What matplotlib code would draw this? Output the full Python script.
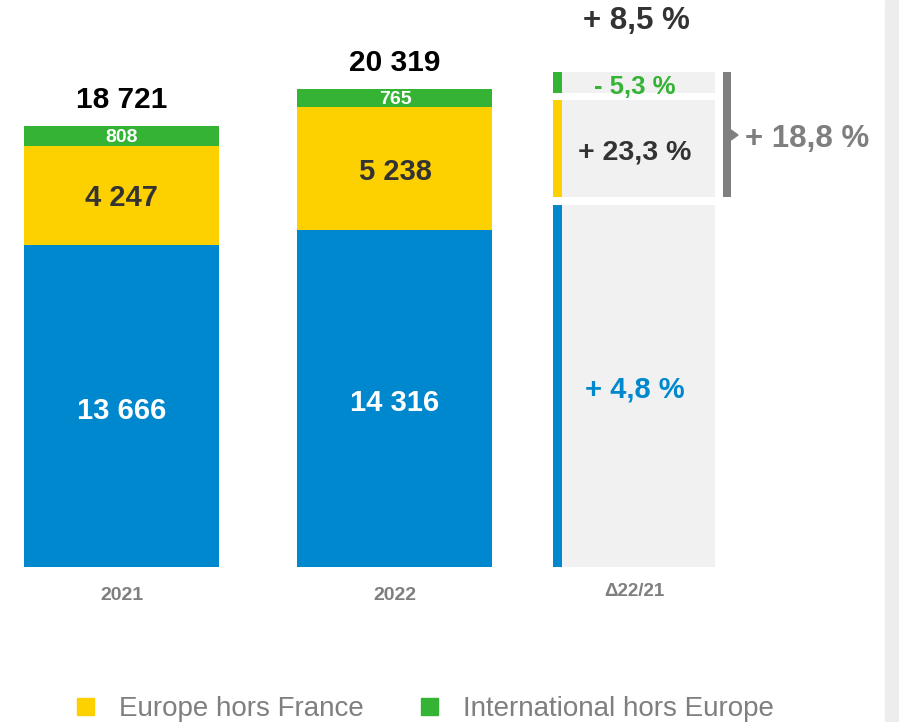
import matplotlib
matplotlib.use('Agg')
import matplotlib.pyplot as plt
from matplotlib.patches import Rectangle, Polygon

plt.rcParams['font.family'] = ['Liberation Sans', 'DejaVu Sans']

# Data
years = ['2021', '2022']
france = [13666, 14316]
europe = [4247, 5238]
international = [808, 765]
delta_label = '\u039422/21'
legend_labels = ['Europe hors France', 'International hors Europe']

BLUE = '#0088CE'
YELLOW = '#FDD000'
GREEN = '#34B334'
DARK = '#333333'
GREY = '#7F7F7F'
PANEL = '#F1F1F1'

W, H = 899, 722
DPI = 100


def fmt(v):
    return f'{v:,}'.replace(',', ' ')


def pct(a, b):
    p = (b / a - 1) * 100
    sign = '+' if p >= 0 else '-'
    return f'{sign} {abs(p):.1f} %'.replace('.', ',')


fig = plt.figure(figsize=(W / DPI, H / DPI), dpi=DPI)

# axes: y=0 at pixel row 567, 0.02353 px per unit, spans to the top
base_px = 567
ppu = 0.02353
ax = fig.add_axes([0, (H - base_px) / H, 1, base_px / H])
ax.set_ylim(0, base_px / ppu)
x0_px, step_px = 121.5, 273.5
ax.set_xlim(-x0_px / step_px, (W - x0_px) / step_px)
ax.axis('off')


def px2y(py):
    return (base_px - py) / ppu


def px2x(px):
    return (px - x0_px) / step_px


nudge = 3 / ppu  # text sits a bit lower than bbox centre
xs = [0, 1]
bw = 195 / step_px
b2 = [f + e for f, e in zip(france, europe)]
ax.bar(xs, france, width=bw, color=BLUE)
ax.bar(xs, europe, width=bw, bottom=france, color=YELLOW)
ax.bar(xs, international, width=bw, bottom=b2, color=GREEN)

for i, x in enumerate(xs):
    ax.text(x, france[i] / 2 - 1.5 * nudge, fmt(france[i]), ha='center', va='center',
            color='white', fontsize=21, fontweight='bold')
    ax.text(x, france[i] + europe[i] / 2 - nudge, fmt(europe[i]), ha='center', va='center',
            color=DARK, fontsize=21, fontweight='bold')
    ax.text(x, b2[i] + international[i] / 2 - 0.5 * nudge, fmt(international[i]),
            ha='center', va='center', color='white', fontsize=14, fontweight='bold')
    total = b2[i] + international[i]
    ax.annotate(fmt(total), (x, total), xytext=(0, 19), textcoords='offset points',
                ha='center', va='center', color='black', fontsize=21.5, fontweight='bold')
    ax.text(x, px2y(595), years[i], ha='center', va='center', color=GREY,
            fontsize=14, fontweight='bold')

# delta column
strip_l, strip_r, panel_r = px2x(553), px2x(562), px2x(715)
rows = [(205, 567, BLUE, pct(france[0], france[1]), BLUE, 21),
        (100, 197, YELLOW, pct(europe[0], europe[1]), DARK, 20.5),
        (72, 93, GREEN, pct(international[0], international[1]), GREEN, 18.5)]
for top, bot, col, lab, tcol, fs in rows:
    ax.bar(strip_l, px2y(top) - px2y(bot), bottom=px2y(bot), width=strip_r - strip_l,
           align='edge', color=col)
    ax.bar(strip_r, px2y(top) - px2y(bot), bottom=px2y(bot), width=panel_r - strip_r,
           align='edge', color=PANEL)
    ax.text(px2x(635), px2y((top + bot) / 2 + 4), lab, ha='center', va='center',
            color=tcol, fontsize=fs, fontweight='bold')
ax.text(px2x(634), px2y(592), delta_label, ha='center', va='center', color=GREY,
        fontsize=13.5, fontweight='bold')

tot = [b + i for b, i in zip(b2, international)]
ax.text(px2x(636), px2y(21), pct(tot[0], tot[1]), ha='center', va='center',
        color=DARK, fontsize=22.5, fontweight='bold')

# bracket for Europe + International
ax.bar(px2x(723), px2y(72) - px2y(197), bottom=px2y(197), width=px2x(731) - px2x(723),
       align='edge', color='#808080')
ax.add_patch(Polygon([[px2x(731), px2y(130)], [px2x(738), px2y(135)], [px2x(731), px2y(140)]],
                     closed=True, color='#808080'))
eu_int = [e + i for e, i in zip(europe, international)]
ax.text(px2x(745), px2y(139), pct(eu_int[0], eu_int[1]), ha='left', va='center',
        color=GREY, fontsize=22.5, fontweight='bold')

# grey stripe on the right edge
fig.patches.append(Rectangle((885 / W, 0), (W - 885) / W, 1, transform=fig.transFigure,
                             color='#EDEDED', zorder=0))

# legend
for (sx, tx), lab, col in zip([(77, 119), (421, 463)], legend_labels, [YELLOW, GREEN]):
    fig.patches.append(Rectangle((sx / W, (H - 715) / H), 17 / W, 17 / H,
                                 transform=fig.transFigure, color=col))
    fig.text(tx / W, (H - 709) / H, lab, ha='left', va='center', color=GREY, fontsize=20)

fig.savefig('out.png', dpi=DPI)
